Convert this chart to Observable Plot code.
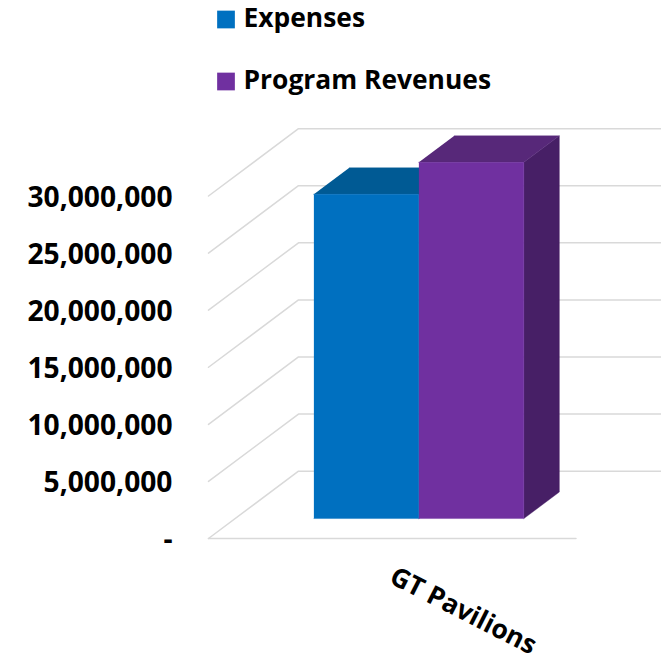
<!DOCTYPE html>
<html>
<head>
<meta charset="utf-8">
<script src="https://cdn.jsdelivr.net/npm/d3@7"></script>
<script src="https://cdn.jsdelivr.net/npm/@observablehq/plot@0.6"></script>
<style>
html,body{margin:0;padding:0;background:#fff}
svg{display:block}
</style>
</head>
<body>
<div id="chart"></div>
<script>
const seriesNames = ["Expenses", "Program Revenues"];
const seriesValues = [28400000, 31200000];
const categories = ["GT Pavilions"];
const yTicks = [0, 5000000, 10000000, 15000000, 20000000, 25000000, 30000000];
const frontColors = ["#0070C0", "#7030A0"];
const topColors = ["#005A94", "#572879"];
const sideColors = ["#00487A", "#471F66"];

// Oblique projection in data units: a depth step slides right and up on the value scale.
const floorWidth = 3.5, gapWidth = 0.75;
const depthX = 0.857, depthY = 5900000;
const barFront = 0.296, barBack = 0.69;
const proj = (x, v, d) => ({x: x + d * depthX, y: v + d * depthY});

const grid = yTicks.flatMap(v => [
  {...proj(0, v, 0), id: v},
  {...proj(0, v, 1), id: v},
  {...proj(floorWidth, v, 1), id: v}
]);
const floorFront = [proj(0, 0, 0), proj(floorWidth, 0, 0)];

const faces = seriesValues.flatMap((v, i) => {
  const a = gapWidth + i, b = a + 1;
  const poly = (name, color, pts) => pts.map(p => ({...p, id: name + i, c: color}));
  return [
    poly("side", sideColors[i], [proj(b, 0, barFront), proj(b, 0, barBack), proj(b, v, barBack), proj(b, v, barFront)]),
    poly("top", topColors[i], [proj(a, v, barFront), proj(b, v, barFront), proj(b, v, barBack), proj(a, v, barBack)]),
    poly("front", frontColors[i], [proj(a, 0, barFront), proj(b, 0, barFront), proj(b, v, barFront), proj(a, v, barFront)])
  ];
});

const font = "'Open Sans', sans-serif";
const legendY = [-176.5, -114.5];
const chart = Plot.plot({
  width: 661, height: 662,
  marginLeft: 208, marginRight: 85.5, marginTop: 195.5, marginBottom: 124,
  style: {fontFamily: font, background: "#fff"},
  x: {domain: [0, floorWidth], axis: null},
  y: {domain: [0, 30000000], axis: null},
  color: {type: "identity"},
  marks: [
    Plot.line(grid, {x: "x", y: "y", z: "id", stroke: "#D9D9D9", strokeWidth: 1.5}),
    Plot.line(floorFront, {x: "x", y: "y", stroke: "#D9D9D9", strokeWidth: 1.5}),
    Plot.line(faces.flat(), {x: "x", y: "y", z: "id", fill: "c", stroke: "c", strokeWidth: 0.4}),
    Plot.axisY({
      ticks: yTicks, tickSize: 0, tickPadding: 36,
      tickFormat: d => d === 0 ? "-" : d3.format(",")(d),
      label: null, fontSize: 28.2, fontWeight: 700, fill: "#000", dy: 1.5
    }),
    Plot.text(categories, {
      x: floorWidth / 2, y: 0, text: d => d,
      rotate: 27, dx: 71, dy: 72.5,
      fontSize: 26.5, fontWeight: 700, fill: "#000"
    }),
    ...seriesNames.flatMap((name, i) => [
      Plot.dot([name], {
        frameAnchor: "top-left", dx: 17.5, dy: legendY[i],
        symbol: "square", r: 10, fill: frontColors[i], stroke: "none"
      }),
      Plot.text([name], {
        frameAnchor: "top-left", dx: 35, dy: legendY[i] - 0.7,
        text: d => d, textAnchor: "start", lineAnchor: "middle",
        fontSize: 26.4, fontWeight: 700, fill: "#000"
      })
    ])
  ]
});
document.getElementById("chart").append(chart);
</script>
</body>
</html>
